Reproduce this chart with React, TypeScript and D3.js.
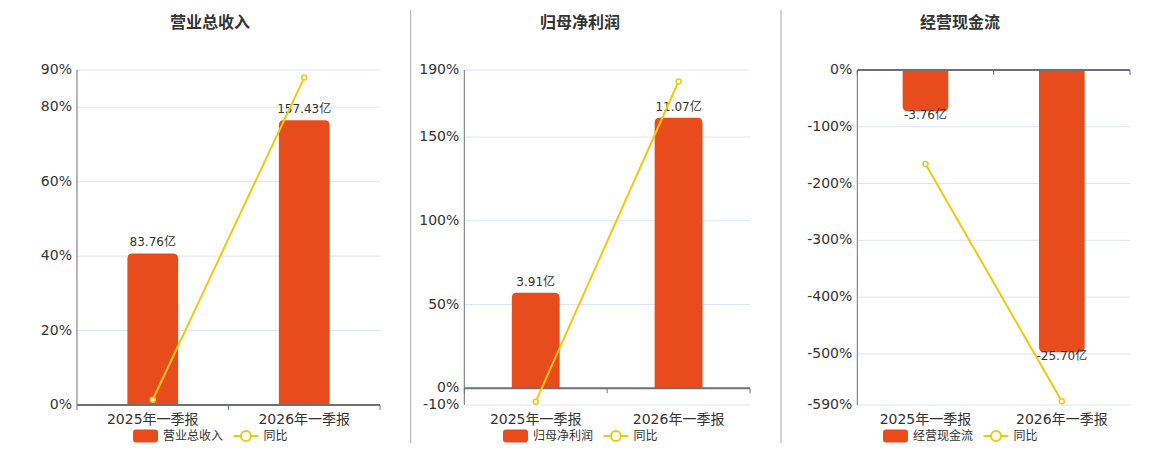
import * as d3 from "d3";

const categories = ["2025年一季报", "2026年一季报"];

const revenueValues = [83.76, 157.43];
const revenueYoy = [1.42, 87.96];
const revenueTicks = [0, 20, 40, 60, 80, 90];

const profitValues = [3.91, 11.07];
const profitYoy = [-8.0, 183.12];
const profitTicks = [-10, 0, 50, 100, 150, 190];

const cashValues = [-3.76, -25.7];
const cashYoy = [-165.5, -583.51];
const cashTicks = [0, -100, -200, -300, -400, -500, -590];

const BAR = "#E84C1D";
const LINE = "#F2C80F";
const TEXT = "#333";
const AXIS = "#6E7079";
const GRID = "#E0E6F1";
const FONT = "'DejaVu Sans', 'Noto Sans CJK SC', sans-serif";

const panels = [
  {
    title: "营业总收入", cx: 210, left: 77, right: 380,
    values: revenueValues, yoy: revenueYoy, ticks: revenueTicks,
    yoyDomain: [0, 90], barDomain: [0, 185.2],
  },
  {
    title: "归母净利润", cx: 580, left: 464.3, right: 750,
    values: profitValues, yoy: profitYoy, ticks: profitTicks,
    yoyDomain: [-10, 190], barDomain: [-0.685, 13.02],
  },
  {
    title: "经营现金流", cx: 960, left: 857.3, right: 1130,
    values: cashValues, yoy: cashYoy, ticks: cashTicks,
    yoyDomain: [-590, 0], barDomain: [-30.5, 0],
  },
];

const top = 70;
const bottom = 405;

function barPath(x: number, w: number, y0: number, y1: number, r: number) {
  // rounded on the end away from zero
  const h = Math.abs(y1 - y0);
  const rr = Math.min(r, h / 2, w / 2);
  if (y1 < y0) {
    return `M${x},${y0}V${y1 + rr}Q${x},${y1} ${x + rr},${y1}H${x + w - rr}Q${x + w},${y1} ${x + w},${y1 + rr}V${y0}Z`;
  }
  return `M${x},${y0}V${y1 - rr}Q${x},${y1} ${x + rr},${y1}H${x + w - rr}Q${x + w},${y1} ${x + w},${y1 - rr}V${y0}Z`;
}

function Panel({ p }: { p: (typeof panels)[number] }) {
  const x = d3.scaleBand<string>().domain(categories).range([p.left, p.right]);
  const yYoy = d3.scaleLinear().domain(p.yoyDomain).range([bottom, top]);
  const yBar = d3.scaleLinear().domain(p.barDomain).range([bottom, top]);
  const bw = x.bandwidth() * 0.335;
  const zeroY = yYoy(0);
  const barZero = yBar(0);

  const line = d3
    .line<number>()
    .x((_, i) => x(categories[i])! + x.bandwidth() / 2)
    .y((d) => yYoy(d));

  const lx = p.cx - 77;

  return (
    <g>
      <text x={p.cx} y={23} textAnchor="middle" dominantBaseline="middle"
        fontSize={16} fontWeight="bold" fill={TEXT}>{p.title}</text>

      {p.ticks.map((t) => (
        <g key={t}>
          <line x1={p.left} x2={p.right} y1={yYoy(t)} y2={yYoy(t)} stroke={GRID} strokeWidth={1} />
          <text x={p.left - 5} y={yYoy(t)} textAnchor="end" dominantBaseline="middle"
            fontSize={14} fill={TEXT}>{t}%</text>
        </g>
      ))}

      <line x1={p.left} x2={p.left} y1={top} y2={bottom} stroke={AXIS} strokeWidth={1} />

      {p.values.map((v, i) => {
        const cx = x(categories[i])! + x.bandwidth() / 2;
        const y1 = yBar(v);
        return (
          <g key={i}>
            <path d={barPath(cx - bw / 2, bw, barZero, y1, 5)} fill={BAR} />
            <text x={cx} y={v >= 0 ? y1 - 10.5 : y1 + 4.5} textAnchor="middle"
              dominantBaseline="middle" fontSize={12} fill={TEXT}>
              {v.toFixed(2)}亿
            </text>
          </g>
        );
      })}

      <line x1={p.left} x2={p.right} y1={zeroY} y2={zeroY} stroke={AXIS} strokeWidth={2} />
      {[p.left, p.left + x.bandwidth(), p.right].map((tx) => (
        <line key={tx} x1={tx} x2={tx} y1={zeroY} y2={zeroY + 5} stroke={AXIS} strokeWidth={1} />
      ))}

      {categories.map((c) => (
        <text key={c} x={x(c)! + x.bandwidth() / 2} y={420} textAnchor="middle"
          dominantBaseline="middle" fontSize={14} fill={TEXT}>{c}</text>
      ))}

      <path d={line(p.yoy)!} fill="none" stroke={LINE} strokeWidth={2} />
      {p.yoy.map((v, i) => (
        <circle key={i} cx={x(categories[i])! + x.bandwidth() / 2} cy={yYoy(v)} r={2.5}
          fill="#fff" stroke={LINE} strokeWidth={1.5} />
      ))}

      <rect x={lx} y={429.5} width={25} height={13} rx={3} fill={BAR} />
      <text x={lx + 30} y={436} dominantBaseline="middle" fontSize={12} fill={TEXT}>{p.title}</text>
      <line x1={lx + 100.5} x2={lx + 125.5} y1={436} y2={436} stroke={LINE} strokeWidth={2} />
      <circle cx={lx + 113} cy={436} r={5} fill="#fff" stroke={LINE} strokeWidth={2} />
      <text x={lx + 130.5} y={436} dominantBaseline="middle" fontSize={12} fill={TEXT}>同比</text>
    </g>
  );
}

export default function App() {
  return (
    <div style={{ position: "absolute", left: 0, top: 0 }}>
      <svg width={1160} height={450} style={{ display: "block", fontFamily: FONT }}>
        <rect width={1160} height={450} fill="#fff" />
        <line x1={410.7} x2={410.7} y1={10} y2={443} stroke="#aaa" strokeWidth={1} />
        <line x1={781} x2={781} y1={10} y2={443} stroke="#aaa" strokeWidth={1} />
        {panels.map((p) => (
          <Panel key={p.title} p={p} />
        ))}
      </svg>
    </div>
  );
}
